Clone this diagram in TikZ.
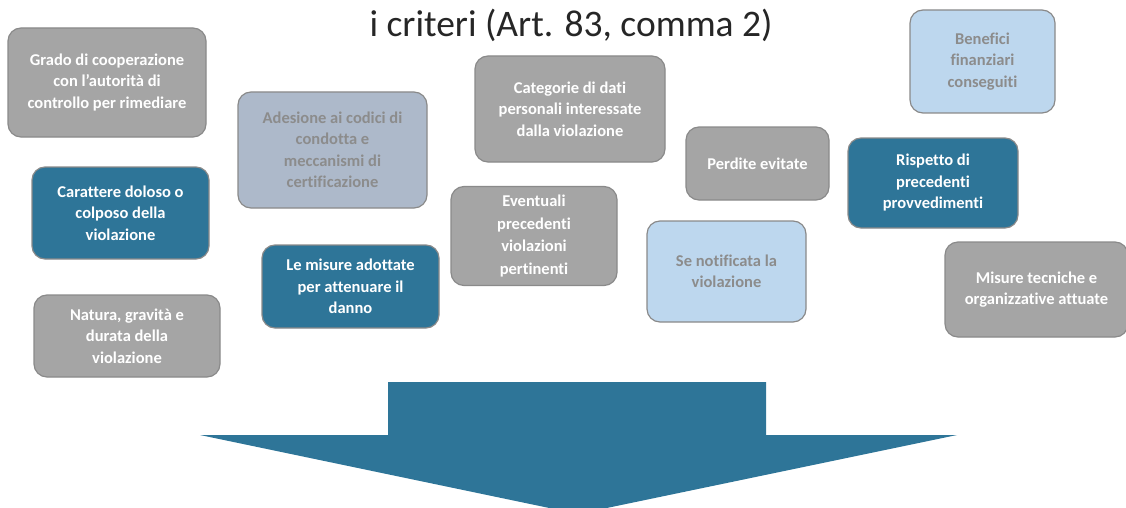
\documentclass[tikz,border=0pt]{standalone}
\usepackage{fontspec}
\setmainfont{Carlito}[Ligatures={TeX,NoCommon}]
\definecolor{boxgray}{HTML}{A5A5A5}
\definecolor{boxteal}{HTML}{2E7598}
\definecolor{boxlight}{HTML}{BDD7EE}
\definecolor{boxslate}{HTML}{ADB9CA}
\definecolor{edgegray}{HTML}{8A8A8A}
\definecolor{softtext}{HTML}{8C8C8C}
\definecolor{titletext}{HTML}{262626}
\begin{document}
\begin{tikzpicture}[x=1pt,y=-1pt]
\useasboundingbox (0,0) rectangle (1126,508);
\tikzset{
  base/.style={rounded corners=13pt, draw=edgegray, line width=1.2pt, align=center,
    font=\fontsize{16.5}{21.5}\selectfont\bfseries, inner sep=0pt},
  grayb/.style={base, fill=boxgray, text=white},
  tealb/.style={base, fill=boxteal, text=white},
  lightb/.style={base, fill=boxlight, text=softtext},
  slateb/.style={base, fill=boxslate, text=softtext},
  sz/.style 2 args={minimum width=#1pt, minimum height=#2pt}
}
\node[font=\fontsize{37.5}{42}\selectfont, text=titletext, anchor=base] (title) at (571,37) {i criteri (Art. 83, comma 2)};

\node[grayb, sz={198}{109}] (grado) at (107,82.5) {Grado di cooperazione\\con l'autorità di\\controllo per rimediare};
\node[tealb, sz={177}{92}] (carattere) at (120.5,213) {Carattere doloso o\\colposo della\\violazione};
\node[grayb, sz={186}{82}] (natura) at (127,336) {Natura, gravità e\\durata della\\violazione};
\node[slateb, sz={189}{116}] (adesione) at (332.5,150) {Adesione ai codici di\\condotta e\\meccanismi di\\certificazione};
\node[tealb, sz={177}{83}] (lemisure) at (350.5,286.5) {Le misure adottate\\per attenuare il\\danno};
\node[grayb, sz={190}{106}] (categorie) at (570,109) {Categorie di dati\\personali interessate\\dalla violazione};
\node[grayb, sz={166}{99}, font=\fontsize{16.5}{22.5}\selectfont\bfseries] (eventuali) at (534,236) {Eventuali\\precedenti\\violazioni\\pertinenti};
\node[grayb, sz={143}{73}] (perdite) at (757.5,163.5) {Perdite evitate};
\node[lightb, sz={159}{101}] (notificata) at (726.5,271.5) {Se notificata la\\violazione};
\node[lightb, sz={145}{103}] (benefici) at (982.5,61.5) {Benefici\\finanziari\\conseguiti};
\node[tealb, sz={170}{90}] (rispetto) at (933,183) {Rispetto di\\precedenti\\provvedimenti};
\node[grayb, sz={183}{95}] (tecniche) at (1036.5,289.5) {Misure tecniche e\\organizzative attuate};

\fill[boxteal] (388,382) -- (766,382) -- (766,435) -- (957,435) -- (578,514)
  -- (200,435) -- (388,435) -- cycle;
\end{tikzpicture}
\end{document}
